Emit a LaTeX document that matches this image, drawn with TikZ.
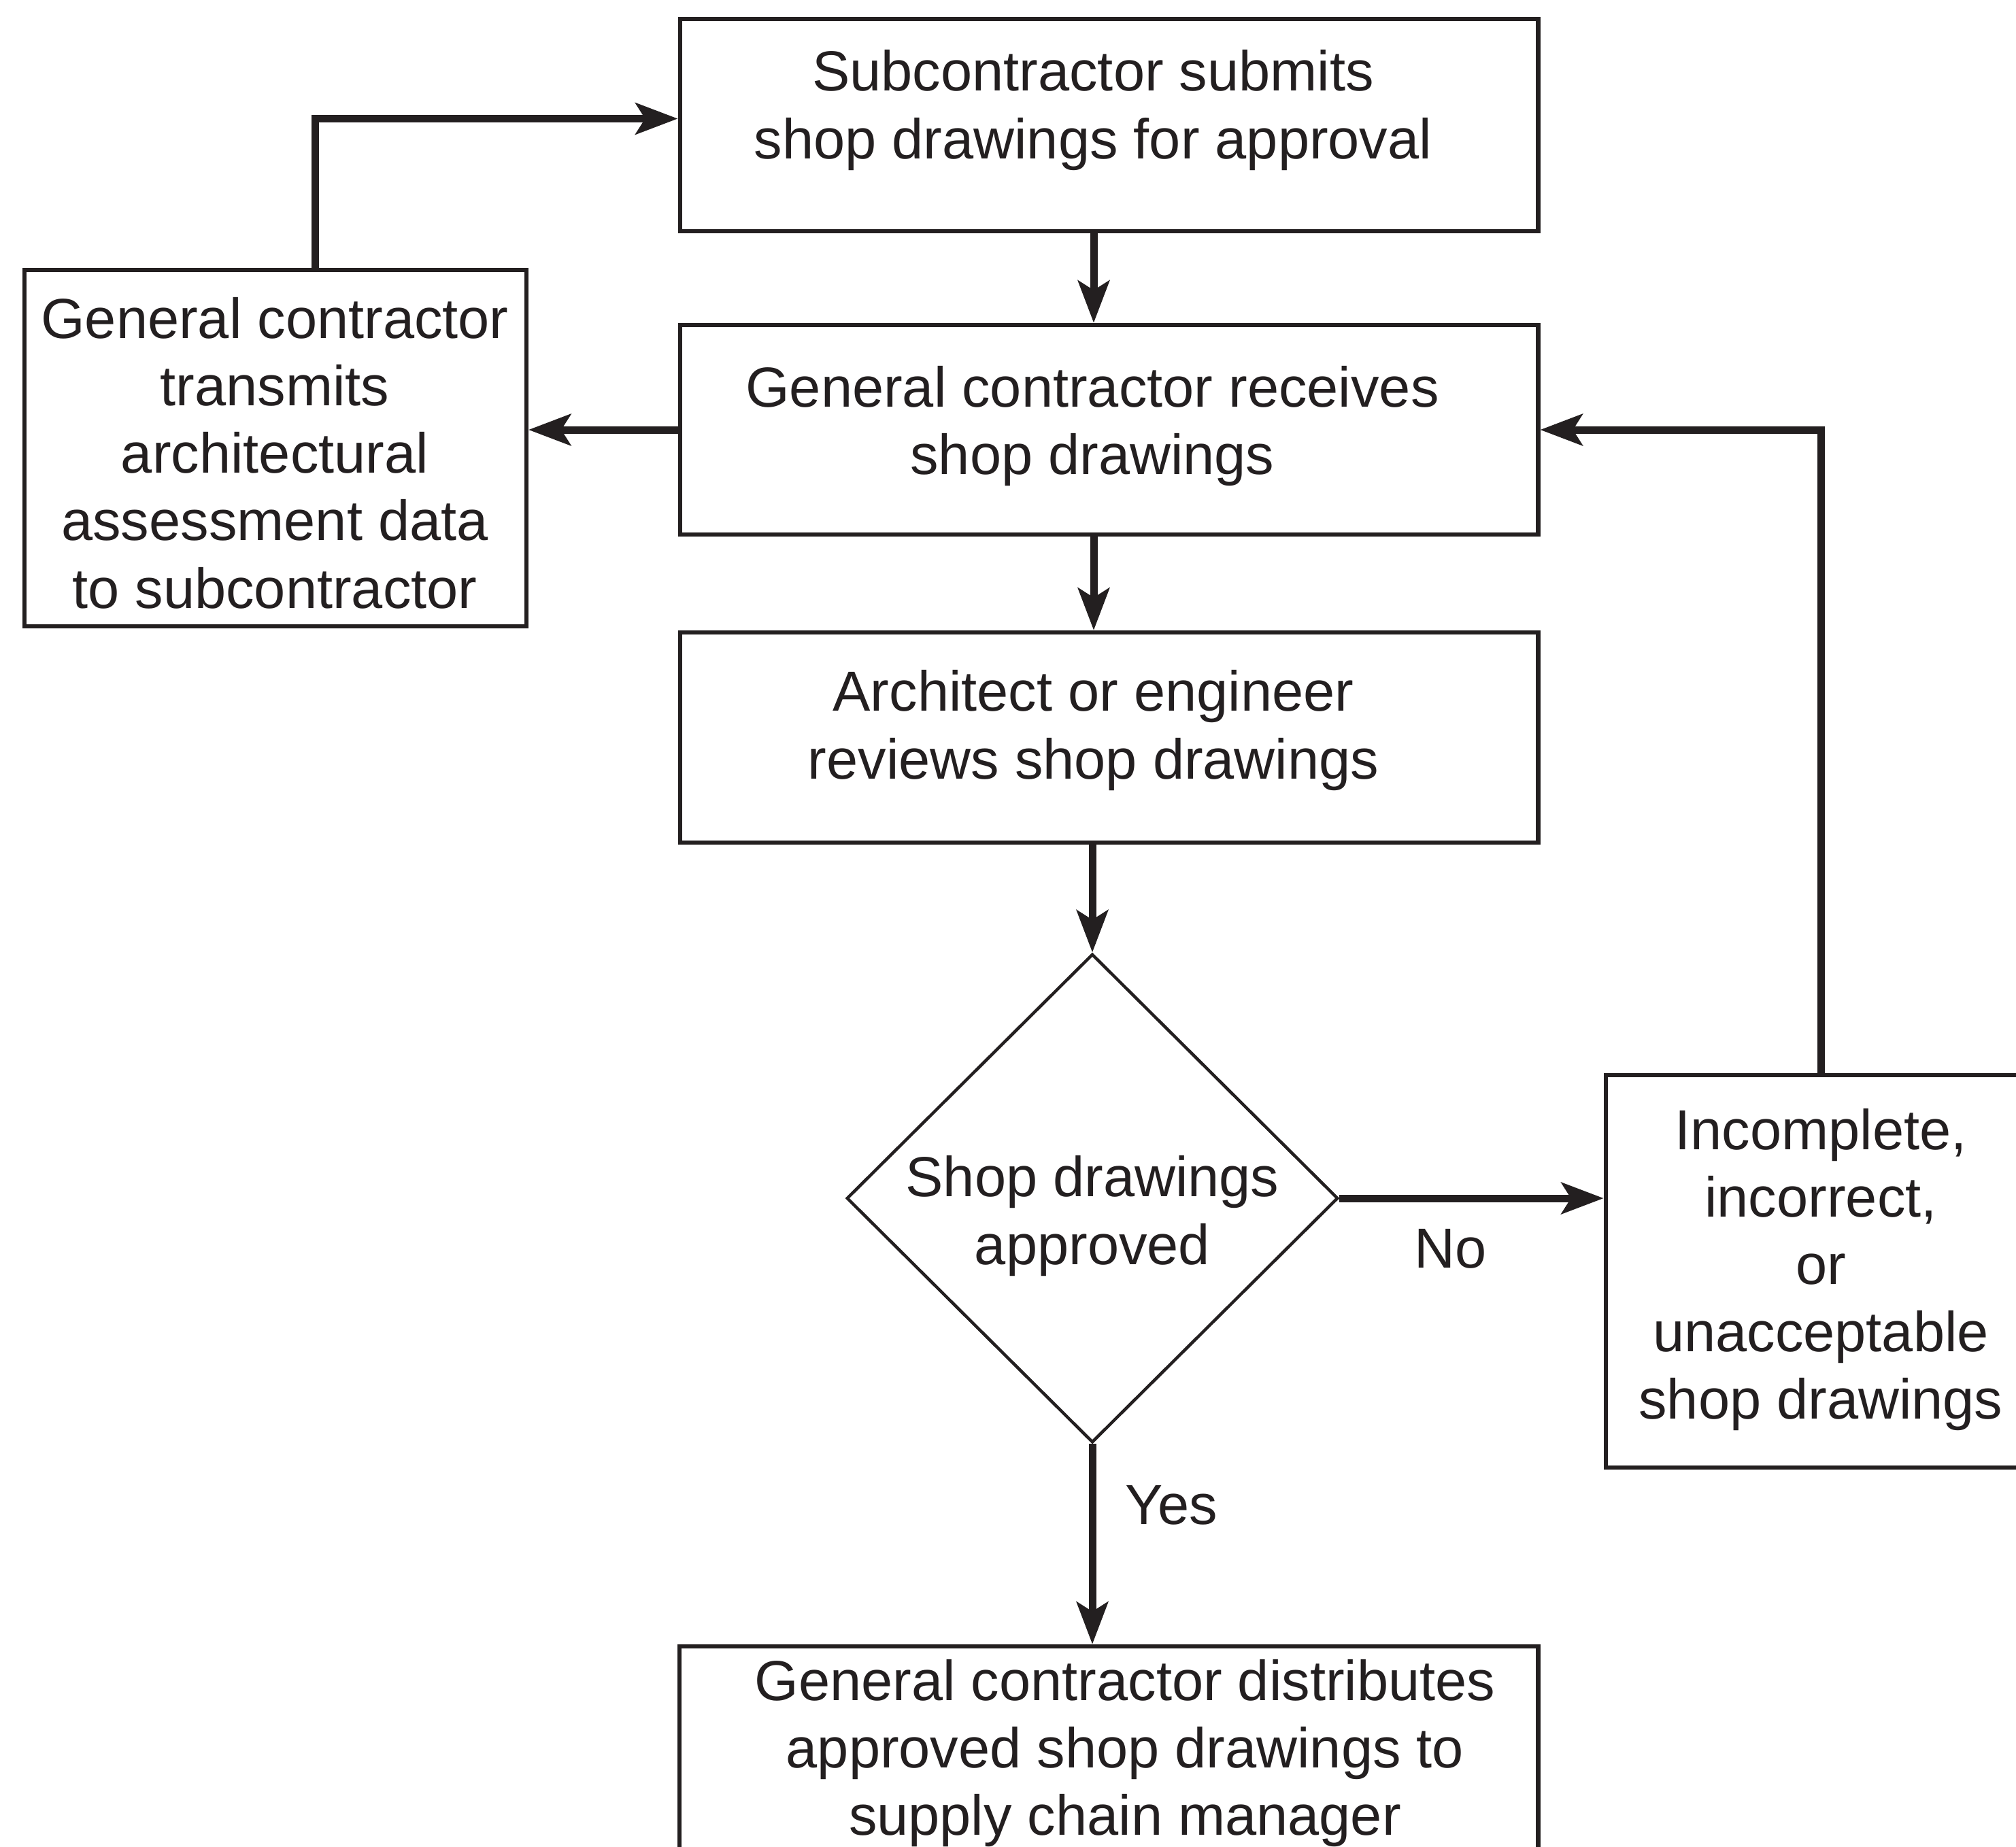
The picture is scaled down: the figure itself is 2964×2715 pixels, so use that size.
\documentclass[tikz,border=0pt]{standalone}
\usepackage{fontspec}
\setmainfont{Liberation Sans}
\usetikzlibrary{arrows.meta,shapes.geometric}
\definecolor{ink}{RGB}{35,31,32}
\begin{document}
\begin{tikzpicture}[x=0.01cm, y=-0.01cm,
  every node/.style={inner sep=0pt},
  box/.style={draw=ink, line width=0.062cm, rectangle},
  decision/.style={draw=ink, line width=0.045cm, diamond},
  txt/.style={text=ink, align=center, outer sep=0pt,
    font=\fontsize{23.6pt}{28.2pt}\selectfont},
  conn/.style={draw=ink, line width=0.11cm,
    -{Stealth[length=0.62cm, width=0.46cm, inset=0.14cm]}},
]
% page frame
\clip (0,0) rectangle (2964,2715);
\fill[white] (0,0) rectangle (2964,2715);

% process boxes (frames) and their texts
\node[box, minimum width=12.61cm, minimum height=3.12cm] (submit) at (1630.5,184) {};
\node[txt] (submit-t) at (1607,162) {Subcontractor submits\\shop drawings for approval};

\node[box, minimum width=12.61cm, minimum height=3.08cm] (receive) at (1630.5,632) {};
\node[txt] (receive-t) at (1606,626.5) {General contractor receives\\shop drawings};

\node[box, minimum width=12.61cm, minimum height=3.09cm] (review) at (1630.5,1084.5) {};
\node[txt] (review-t) at (1607.5,1074) {Architect or engineer\\reviews shop drawings};

\node[box, minimum width=7.375cm, minimum height=5.24cm] (transmit) at (405,659) {};
\node[txt] (transmit-t) at (404,666) {General contractor\\transmits\\architectural\\assessment data\\to subcontractor};

\node[decision, minimum width=7.22cm, minimum height=7.18cm] (approved) at (1606,1762) {};
\node[txt] (approved-t) at (1606,1788) {Shop drawings\\approved};

\node[box, minimum width=6.33cm, minimum height=5.77cm] (reject) at (2677.5,1869.5) {};
\node[txt] (reject-t) at (2677,1867) {Incomplete,\\incorrect,\\or\\unacceptable\\shop drawings};

\node[box, minimum width=12.62cm, minimum height=3.8cm] (distribute) at (1630,2611) {};
\node[txt] (distribute-t) at (1654,2578) {General contractor distributes\\approved shop drawings to\\supply chain manager};

% branch labels
\node[txt, anchor=base] (no) at (2133,1864) {No};
\node[txt, anchor=base] (yes) at (1722,2241) {Yes};

% connectors
\coordinate (spine) at (1608,0);
\coordinate (back) at (463,174.5);
\draw[conn] (submit.south -| spine) -- (receive.north -| spine);
\draw[conn] (receive.south -| spine) -- (review.north -| spine);
\draw[conn] (review.south -| approved.north) -- (approved.north);
\draw[conn] (approved.east) -- (reject.west |- approved.east);
\draw[conn] (approved.south) -- (distribute.north -| approved.south);
\draw[conn] (receive.west) -- (transmit.east |- receive.west);
\draw[conn] (transmit.north -| back) |- (submit.west |- back);
\draw[conn] (reject.north) |- (receive.east);
\end{tikzpicture}
\end{document}
